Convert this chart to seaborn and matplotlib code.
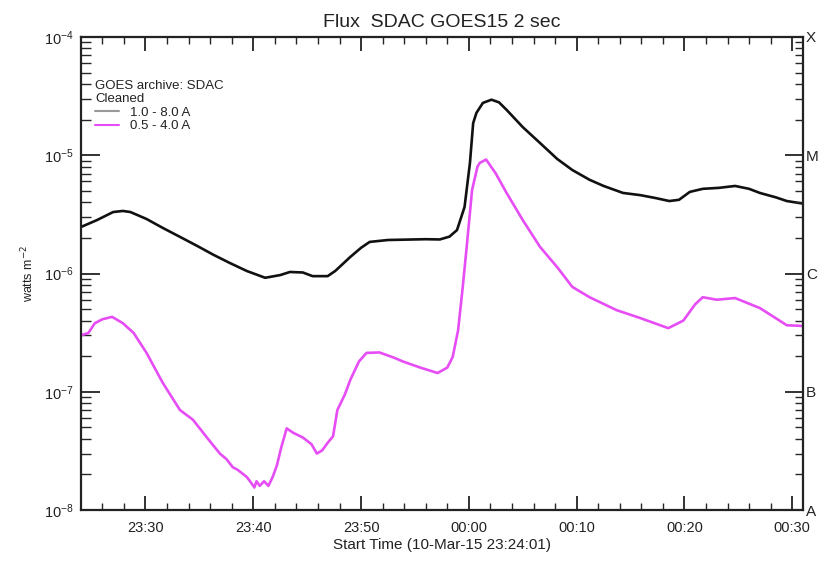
import numpy as np
import pandas as pd
import matplotlib
matplotlib.use("Agg")
import matplotlib.pyplot as plt
import matplotlib.dates as mdates
from matplotlib.ticker import LogLocator, NullFormatter
import seaborn as sns

# ---- data (minutes relative to 00:00 UT, 11-Mar-2015) ----
long_t = [-36.0, -34.5, -33.0, -32.1, -31.4, -29.9, -28.4, -26.8, -25.2, -23.7,
          -22.2, -20.6, -18.9, -17.5, -16.6, -15.4, -14.5, -13.1, -12.4, -11.0,
          -10.0, -9.2, -7.5, -4.0, -2.7, -1.8, -1.1, -0.4, 0.1, 0.4,
          0.7, 1.3, 2.1, 2.8, 3.5, 5.0, 6.6, 8.2, 9.6, 11.2,
          12.5, 14.3, 15.9, 17.3, 18.6, 19.5, 20.5, 21.7, 23.2, 24.7,
          26.0, 27.0, 28.5, 29.5, 31.0]
long_flux = [2.47e-6, 2.83e-6, 3.31e-6, 3.38e-6, 3.31e-6, 2.89e-6, 2.43e-6, 2.04e-6, 1.71e-6, 1.44e-6,
             1.23e-6, 1.05e-6, 0.92e-6, 0.97e-6, 1.03e-6, 1.02e-6, 0.95e-6, 0.95e-6, 1.05e-6, 1.38e-6,
             1.65e-6, 1.85e-6, 1.92e-6, 1.95e-6, 1.94e-6, 2.05e-6, 2.33e-6, 3.65e-6, 8.6e-6, 1.87e-5,
             2.28e-5, 2.77e-5, 2.95e-5, 2.8e-5, 2.42e-5, 1.73e-5, 1.27e-5, 9.3e-6, 7.5e-6, 6.2e-6,
             5.5e-6, 4.8e-6, 4.6e-6, 4.35e-6, 4.1e-6, 4.2e-6, 4.9e-6, 5.2e-6, 5.3e-6, 5.5e-6,
             5.2e-6, 4.8e-6, 4.4e-6, 4.1e-6, 3.9e-6]

short_t = [-36.0, -35.3, -34.7, -34.0, -33.1, -32.1, -31.1, -29.9, -28.4, -26.8,
           -25.6, -24.3, -23.1, -22.5, -21.9, -21.5, -21.2, -20.6, -20.2, -19.9,
           -19.7, -19.4, -19.0, -18.6, -18.2, -17.8, -17.4, -16.9, -16.3, -15.4,
           -14.6, -14.1, -13.6, -13.1, -12.6, -12.2, -11.5, -11.0, -10.2, -9.5,
           -8.3, -7.0, -6.1, -4.5, -2.9, -2.0, -1.5, -1.0, -0.6, -0.2,
           0.3, 0.8, 1.0, 1.6, 2.5, 3.5, 5.0, 6.6, 8.2, 9.6,
           11.2, 12.2, 13.7, 15.9, 18.5, 19.9, 21.0, 21.7, 23.0, 24.7,
           27.0, 29.5, 31.0]
short_flux = [3.0e-7, 3.14e-7, 3.8e-7, 4.1e-7, 4.3e-7, 3.8e-7, 3.14e-7, 2.13e-7, 1.19e-7, 7.0e-8,
              5.8e-8, 4.1e-8, 3.0e-8, 2.7e-8, 2.3e-8, 2.2e-8, 2.1e-8, 1.9e-8, 1.7e-8, 1.55e-8,
              1.75e-8, 1.6e-8, 1.75e-8, 1.6e-8, 1.9e-8, 2.4e-8, 3.4e-8, 4.9e-8, 4.5e-8, 4.1e-8,
              3.6e-8, 3.0e-8, 3.2e-8, 3.7e-8, 4.2e-8, 7.0e-8, 9.5e-8, 1.26e-7, 1.8e-7, 2.13e-7,
              2.15e-7, 1.95e-7, 1.8e-7, 1.6e-7, 1.44e-7, 1.6e-7, 1.97e-7, 3.3e-7, 7.2e-7, 1.68e-6,
              5.1e-6, 8.0e-6, 8.6e-6, 9.2e-6, 7.0e-6, 4.8e-6, 2.83e-6, 1.68e-6, 1.13e-6, 7.7e-7,
              6.3e-7, 5.7e-7, 4.9e-7, 4.2e-7, 3.45e-7, 4.0e-7, 5.5e-7, 6.3e-7, 6.0e-7, 6.2e-7,
              5.1e-7, 3.65e-7, 3.6e-7]

channels = ["1.0 - 8.0 A", "0.5 - 4.0 A"]
colors = ["#111111", "#e64df5"]
class_labels = ["A", "B", "C", "M", "X"]
class_levels = [1e-8, 1e-7, 1e-6, 1e-5, 1e-4]

t0 = pd.Timestamp("2015-03-11 00:00:00")
start = pd.Timestamp("2015-03-10 23:24:01")
end = pd.Timestamp("2015-03-11 00:31:00")

df = pd.concat([
    pd.DataFrame({"time": t0 + pd.to_timedelta(long_t, unit="m"), "flux": long_flux, "channel": channels[0]}),
    pd.DataFrame({"time": t0 + pd.to_timedelta(short_t, unit="m"), "flux": short_flux, "channel": channels[1]}),
])

sns.set_style("ticks")
plt.rcParams["font.family"] = ["Liberation Sans", "DejaVu Sans"]

fig = plt.figure(figsize=(8.22, 5.64), dpi=100)
ax = fig.add_axes([81 / 822, 1 - 510 / 564, (803 - 81) / 822, (510 - 37) / 564])

sns.lineplot(data=df, x="time", y="flux", hue="channel", palette=dict(zip(channels, colors)),
             linewidth=1.9, ax=ax, legend=True, sort=False)
for ln in ax.get_lines():
    ln.set_solid_joinstyle("round")
    ln.set_solid_capstyle("round")

ax.set_yscale("log")
ax.set_ylim(1e-8, 1e-4)
ax.set_xlim(start, end)

ax.xaxis.set_major_locator(mdates.MinuteLocator(byminute=range(0, 60, 10)))
ax.xaxis.set_minor_locator(mdates.MinuteLocator(byminute=range(0, 60, 2)))
ax.xaxis.set_major_formatter(mdates.DateFormatter("%H:%M"))
ax.yaxis.set_major_locator(LogLocator(base=10, numticks=10))
ax.yaxis.set_minor_locator(LogLocator(base=10, subs=np.arange(2, 10), numticks=20))
ax.yaxis.set_minor_formatter(NullFormatter())

for s in ax.spines.values():
    s.set_linewidth(1.6)
    s.set_color("#222222")

ax.tick_params(axis="x", which="major", direction="in", length=10, width=1.3, top=True,
               labelsize=10.5, colors="#222222", pad=8)
ax.tick_params(axis="x", which="minor", direction="in", length=5, width=1.0, top=True)
ax.tick_params(axis="y", which="major", direction="in", length=14, width=1.3, right=False,
               labelsize=10.5, colors="#222222", pad=5)
ax.tick_params(axis="y", which="minor", direction="in", length=7, width=1.0, right=False)

ax2 = ax.twinx()
ax2.set_yscale("log")
ax2.set_ylim(1e-8, 1e-4)
ax2.set_yticks(class_levels)
ax2.set_yticklabels(class_labels)
ax2.yaxis.set_minor_locator(LogLocator(base=10, subs=np.arange(2, 10), numticks=20))
ax2.yaxis.set_minor_formatter(NullFormatter())
ax2.tick_params(axis="y", which="major", direction="in", length=13, width=1.3,
                labelsize=11, colors="#222222", pad=2)
ax2.tick_params(axis="y", which="minor", direction="in", length=6, width=1.0)
for s in ax2.spines.values():
    s.set_visible(False)

ax.set_xlabel("Start Time (10-Mar-15 23:24:01)", fontsize=11, color="#222222", labelpad=2)
ax.set_ylabel("watts m$^{-2}$", fontsize=9, color="#222222", labelpad=6)
ax.set_title("Flux  SDAC GOES15 2 sec", fontsize=14, color="#222222", pad=7)

handles, labels = ax.get_legend_handles_labels()
leg = ax.legend(handles, labels, title="GOES archive: SDAC\nCleaned", alignment="left",
                loc="upper left", bbox_to_anchor=(0.02, 0.91), frameon=False,
                fontsize=9.5, title_fontsize=9.5, handlelength=1.8, handletextpad=0.8,
                labelspacing=0.1, borderaxespad=0, borderpad=0)
leg.get_lines()[0].set_color("#999999")
for ln in leg.get_lines():
    ln.set_linewidth(1.5)
for txt in leg.get_texts():
    txt.set_color("#222222")
leg.get_title().set_color("#222222")

fig.savefig("out.png", dpi=100)
